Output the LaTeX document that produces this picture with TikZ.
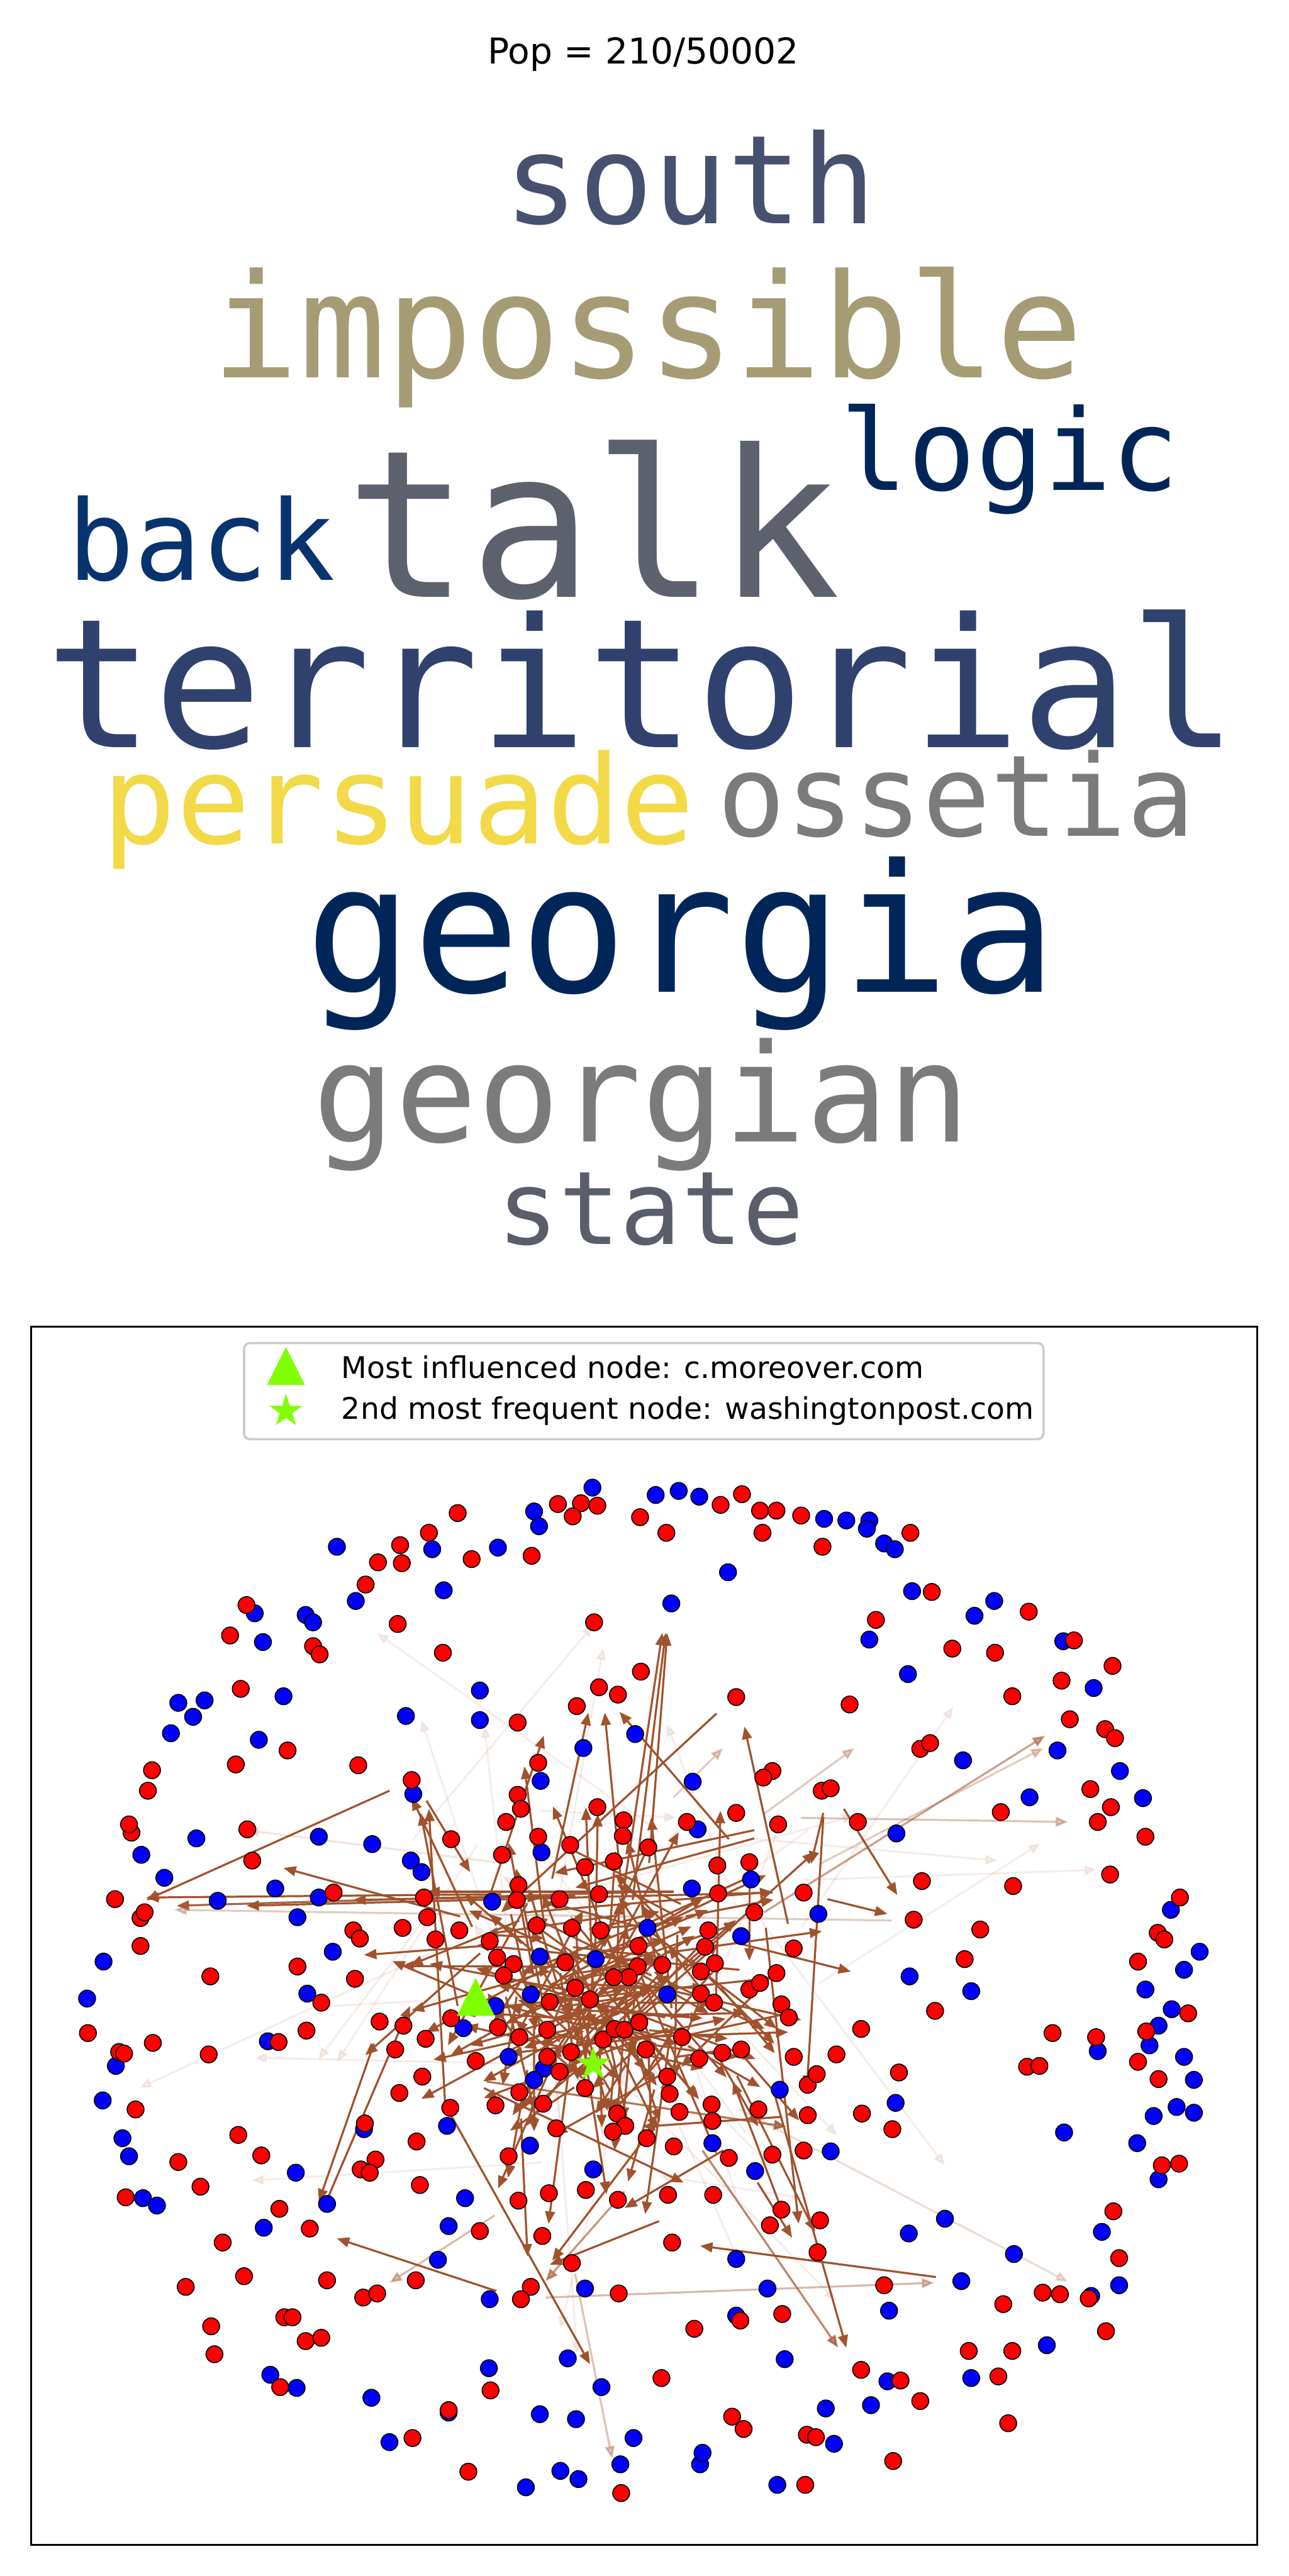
\documentclass[tikz,border=0pt]{standalone}
\usepackage{fontspec}
\setmainfont{DejaVu Sans}
\newfontfamily\cloudfont{DejaVu Sans Mono}
\usetikzlibrary{arrows.meta,shapes.geometric,positioning}
\definecolor{sienna}{RGB}{160,82,45}
\definecolor{lawn}{RGB}{127,255,0}
\definecolor{cvnavy}{RGB}{0,38,89}
\definecolor{cvblue}{RGB}{8,51,110}
\definecolor{cvslate}{RGB}{49,65,109}
\definecolor{cvdusk}{RGB}{72,80,112}
\definecolor{cvgrey}{RGB}{93,97,110}
\definecolor{cvstone}{RGB}{90,94,107}
\definecolor{cvash}{RGB}{123,123,121}
\definecolor{cvkhaki}{RGB}{165,156,118}
\definecolor{cvgold}{RGB}{242,217,72}
\newcommand{\cw}[1]{\cloudfont\fontsize{#1}{#1}\selectfont}

\begin{document}
\begin{tikzpicture}[x=0.01cm,y=-0.01cm,>={Triangle[length=4.3pt,width=3.4pt]}]
\tikzset{word/.style={inner sep=0pt,anchor=base,text depth=0pt},
 rnode/.style={circle,fill=red,draw=black,line width=0.35pt,inner sep=0pt,minimum size=0.205cm},
 bnode/.style={rnode,fill=blue},
 edge/.style={->,draw=sienna,line width=0.7pt},
 faint/.style={edge,opacity=0.1}}
\useasboundingbox (0,0) rectangle (1568,3136);

% title and word cloud
\node[anchor=base,font=\fontsize{12.35}{12.35}\selectfont] (title) at (783,78) {Pop = 210/50002};
\node[word,text=cvdusk,font=\cw{42.7}] (south) at (840,272) {south};
\node[word,text=cvkhaki,font=\cw{50.1}] (impossible) at (788,460) {impossible};
\node[word,text=cvnavy,font=\cw{39}] (logic) at (1229,597) {logic};
\node[word,text=cvblue,font=\cw{38.5}] (back) at (245,706) {back};
\node[word,text=cvgrey,font=\cw{71.1}] (talk) at (722,727) {talk};
\node[word,text=cvslate,font=\cw{62.3},text height=0.6em] (territorial) at (781,910) {territorial};
\node[word,text=cvgold,font=\cw{42.6}] (persuade) at (485,1027) {persuade};
\node[word,text=cvash,font=\cw{39.2}] (ossetia) at (1164,1018) {ossetia};
\node[word,text=cvnavy,font=\cw{61.7}] (georgia) at (829,1208) {georgia};
\node[word,text=cvash,font=\cw{47.2}] (georgian) at (781,1390) {georgian};
\node[word,text=cvstone,font=\cw{35.3}] (state) at (792,1515) {state};

% network
\begin{scope}[shift={(0,1568)}]
\draw[line width=0.8pt] (38,47) rectangle (1530,1530);

% faint edges
\pgfmathsetseed{977}
\foreach \i in {1,...,35}{
  \pgfmathsetmacro\ax{740+260*rand}
  \pgfmathsetmacro\ay{870+240*rand}
  \pgfmathsetmacro\ang{360*rnd}
  \pgfmathsetmacro\len{150+300*rnd}
  \draw[faint] (\ax,\ay) -- ++(\ang:\len);
}
\foreach \ax/\ay/\bx/\by/\op in {930/760/1272/545/0.55, 975/645/1300/650/0.35, 602/1129/474/1211/0.4,
  664/1229/1137/1211/0.4, 700/1200/745/1425/0.35, 760/1100/664/1209/0.6, 1085/770/212/757/0.3,
  855/1050/1020/1290/0.7, 592/966/957/1021/0.8, 760/736/215/752/0.9, 1000/700/1270/560/0.3,
  900/1000/1300/1210/0.2, 610/700/300/660/0.15, 820/620/880/560/0.3, 930/640/1040/560/0.3}
  \draw[edge,opacity=\op] (\ax,\ay) -- (\bx,\by);

% strong edges
\foreach \ax/\ay/\bx/\by in {474/612/178/745, 610/738/178/742, 940/736/300/752, 560/765/345/706,
  600/800/443/812, 755/760/806/420, 770/745/810/420, 790/700/812/420, 672/719/716/517,
  762/789/736/517, 887/671/754/516, 959/774/906/534, 872/518/610/760, 1027/634/1092/739,
  1007/744/1080/762, 1002/639/987/701, 1002/644/982/974, 912/719/912/819, 932/779/972/1139,
  897/959/992/1149, 922/1089/964/1156, 952/1124/892/966, 942/979/1030/1290, 455/920/388/1112,
  398/1110/499/874, 604/1221/410/1157, 1139/1204/852/1166, 545/1000/718/1310, 634/1011/642/1179,
  802/1136/669/1189, 782/1039/672/1184, 557/874/512/639, 542/999/522/634, 519/624/572/711,
  589/974/832/1089, 952/1009/782/1021, 918/660/675/712, 918/670/700/730, 880/1050/760/1120,
  700/740/430/745, 820/735/520/735, 640/760/940/735, 900/830/580/800, 560/880/940/840}
  \draw[edge] (\ax,\ay) -- (\bx,\by);
\pgfmathsetseed{2718}
\foreach \i in {1,...,175}{
  \pgfmathsetmacro\ax{740+140*(rand+rand)/2+60*rand}
  \pgfmathsetmacro\ay{860+110*(rand+rand)/2+50*rand}
  \pgfmathsetmacro\ang{360*rnd}
  \pgfmathsetmacro\len{60+180*rnd}
  \draw[edge] (\ax,\ay) -- ++(\ang:\len);
}

% nodes
\foreach \x/\y [count=\i] in {721/243, 798/252, 826/247, 851/254, 650/272, 656/290, 1003/281, 1030/283,
  1058/283, 1055/293, 1076/311, 1089/318, 606/316, 526/318, 410/315, 433/381, 540/368, 886/346,
  817/384, 1110/369, 1186/399, 1210/381, 1058/428, 1294/430, 1331/487, 1105/470, 1172/575, 1287/563,
  1363/588, 1391/621, 1253/620, 1091/664, 1425/757, 1460/808, 1441/830, 1394/854, 1182/856, 1107/838,
  1426/878, 1410/898, 1399/922, 1441/936, 1453/964, 1336/929, 1432/997, 1453/1004, 1404/1008,
  1090/992, 1295/1028, 1384/1041, 1410/1085, 1150/1133, 1106/1151, 1341/1149, 1234/1176, 1170/1209,
  1362/1214, 1328/1227, 1082/1245, 1274/1287, 1182/1327, 1080/1331, 1060/1360, 1005/1364, 1015/1407,
  946/1457, 852/1432, 855/1418, 771/1400, 755/1432, 704/1450, 682/1440, 640/1460, 732/1338, 701/1377,
  657/1371, 691/1303, 955/1304, 896/1251, 934/1218, 712/1218, 596/1231, 595/1315, 546/1369, 452/1351,
  474/1405, 361/1339, 329/1323, 533/1183, 321/1144, 398/1115, 360/1077, 174/1108, 191/1117, 157/1057,
  149/1035, 125/989, 141/947, 106/865, 126/820, 326/917, 374/859, 405/808, 200/718, 172/690, 239/670,
  265/746, 335/731, 362/766, 388/742, 388/668, 453/677, 315/550, 208/542, 235/522, 217/505, 249/502,
  345/497, 310/396, 320/431, 372/398, 381/407, 494/521, 584/490, 584/526, 658/600, 503/616, 710/560,
  773/543, 843/601, 849/659, 659/687, 500/697, 513/711, 914/720, 842/731, 902/789, 788/779, 657/814,
  725/817, 812/860, 646/860, 603/874, 564/901, 619/936, 662/950, 650/964, 544/1020, 645/1044,
  566/1108, 722/1073, 867/1041, 919/1075, 1011/1051, 949/976, 599/747, 996/762, 896/1182, 546/1142,
  443/1024}
  \node[bnode] (b\i) at (\x,\y) {};
\foreach \x/\y [count=\i] in {903/251, 877/264, 679/263, 707/262, 727/265, 697/278, 557/274, 779/279,
  925/271, 945/271, 975/277, 928/298, 1108/298, 1001/315, 811/298, 647/326, 574/330, 522/298, 487/313,
  489/335, 460/334, 445/361, 723/407, 484/409, 539/444, 1134/370, 1252/394, 1066/404, 1159/439,
  1211/444, 1307/429, 1354/460, 1292/478, 1232/497, 1034/507, 1302/525, 1345/537, 1357/548, 1120/561,
  1132/554, 1327/610, 1218/638, 1352/632, 1336/650, 1394/668, 1351/714, 1233/728, 1122/722, 1436/742,
  1409/785, 1417/793, 1385/820, 1174/817, 1193/781, 1138/880, 1112/769, 1446/883, 1395/905, 1385/942,
  1410/963, 1281/907, 1334/912, 1250/948, 1265/947, 1094/955, 1086/1024, 1414/1068, 1435/1066,
  1355/1124, 1362/1181, 1325/1230, 1269/1223, 1290/1225, 1221/1237, 1076/1214, 1346/1270, 1179/1294,
  1232/1294, 1215/1325, 1227/1382, 1096/1330, 1120/1355, 1048/1317, 982/1396, 993/1399, 1087/1428,
  980/1457, 756/1467, 570/1441, 805/1327, 891/1374, 905/1389, 952/1249, 901/1257, 845/1267, 753/1224,
  646/1216, 634/1231, 597/1342, 546/1366, 502/1400, 341/1338, 372/1282, 391/1278, 346/1253, 356/1253,
  398/1208, 442/1229, 459/1224, 506/1208, 297/1203, 257/1264, 261/1298, 226/1216, 271/1162, 377/1145,
  340/1121, 244/1094, 217/1064, 153/1107, 165/1000, 290/1031, 318/1056, 145/930, 151/932, 107/907,
  171/801, 186/919, 254/933, 339/918, 373/904, 256/838, 391/870, 362/826, 432/841, 171/767, 176/760,
  140/744, 160/663, 157/653, 180/612, 185/587, 301/659, 307/697, 406/736, 287/580, 350/563, 436/581,
  293/488, 280/423, 300/386, 381/436, 389/446, 630/529, 655/578, 501/599, 630/617, 634/634, 729/486,
  752/495, 702/509, 780/467, 896/498, 940/588, 929/596, 1000/612, 1011/609, 727/632, 896/639, 947/653,
  836/650, 759/648, 1044/650, 758/667, 789/681, 747/698, 712/705, 694/678, 549/671, 616/650, 611/690,
  655/668, 873/703, 912/699, 874/737, 978/736, 918/760, 862/782, 858/802, 870/822, 853/832, 945/834,
  912/854, 925/846, 951/872, 960/888, 966/804, 853/859, 869/870, 806/824, 776/826, 765/839, 747/839,
  777/801, 731/782, 696/779, 653/776, 688/821, 625/823, 613/837, 605/815, 596/795, 559/782, 530/793,
  520/766, 516/742, 490/779, 631/727, 629/745, 681/744, 729/738, 700/852, 718/866, 669/869, 606/900,
  632/912, 666/903, 549/889, 579/941, 666/936, 695/930, 681/954, 712/974, 734/915, 748/902, 760/903,
  778/894, 786/927, 830/912, 851/938, 879/931, 902/927, 812/960, 815/981, 827/1003, 866/994, 867/1014,
  751/1005, 761/1020, 746/1027, 787/1035, 820/1045, 887/1059, 923/1000, 940/1055, 978/1050, 983/1007,
  983/970, 994/957, 966/936, 1018/933, 1048/902, 632/979, 661/993, 603/995, 677/1023, 548/998,
  514/960, 486/980, 481/927, 491/898, 518/914, 462/893, 444/1017, 507/1039, 619/1057, 457/1061,
  439/1073, 450/1077, 511/1092, 631/1111, 668/1102, 713/1098, 752/1110, 813/1104, 868/1104, 951/1122,
  937/1141, 998/1135, 995/1174, 818/1162, 696/1187, 660/1154, 584/1148, 430/782, 438/792, 1049/1005}
  \node[rnode] (r\i) at (\x,\y) {};

% highlighted nodes
\coordinate (infl) at (579,863);
\fill[lawn] ([shift={(0,-23)}]infl) -- ([shift={(-23,23)}]infl) -- ([shift={(23,23)}]infl) -- cycle;
\node[star,star points=5,star point ratio=2.618,fill=lawn,inner sep=0pt,minimum size=0.44cm] (freq) at (722,945) {};

% legend
\draw[draw=black!20,fill=white,fill opacity=0.8,rounded corners=2pt,line width=0.8pt] (297,67) rectangle (1270,184);
\coordinate (ltri) at (348,95);
\fill[lawn] ([shift={(0,-23)}]ltri) -- ([shift={(-23,23)}]ltri) -- ([shift={(23,23)}]ltri) -- cycle;
\node[star,star points=5,star point ratio=2.618,fill=lawn,inner sep=0pt,minimum size=0.42cm] (lstar) at (348,150) {};
\node[anchor=west,inner sep=0pt,font=\fontsize{10.3}{10.3}\selectfont] (ltext1) at (415,96) {Most influenced node: c.moreover.com};
\node[anchor=west,inner sep=0pt,font=\fontsize{10.3}{10.3}\selectfont] (ltext2) at (415,150) {2nd most frequent node: washingtonpost.com};
\end{scope}
\end{tikzpicture}
\end{document}
